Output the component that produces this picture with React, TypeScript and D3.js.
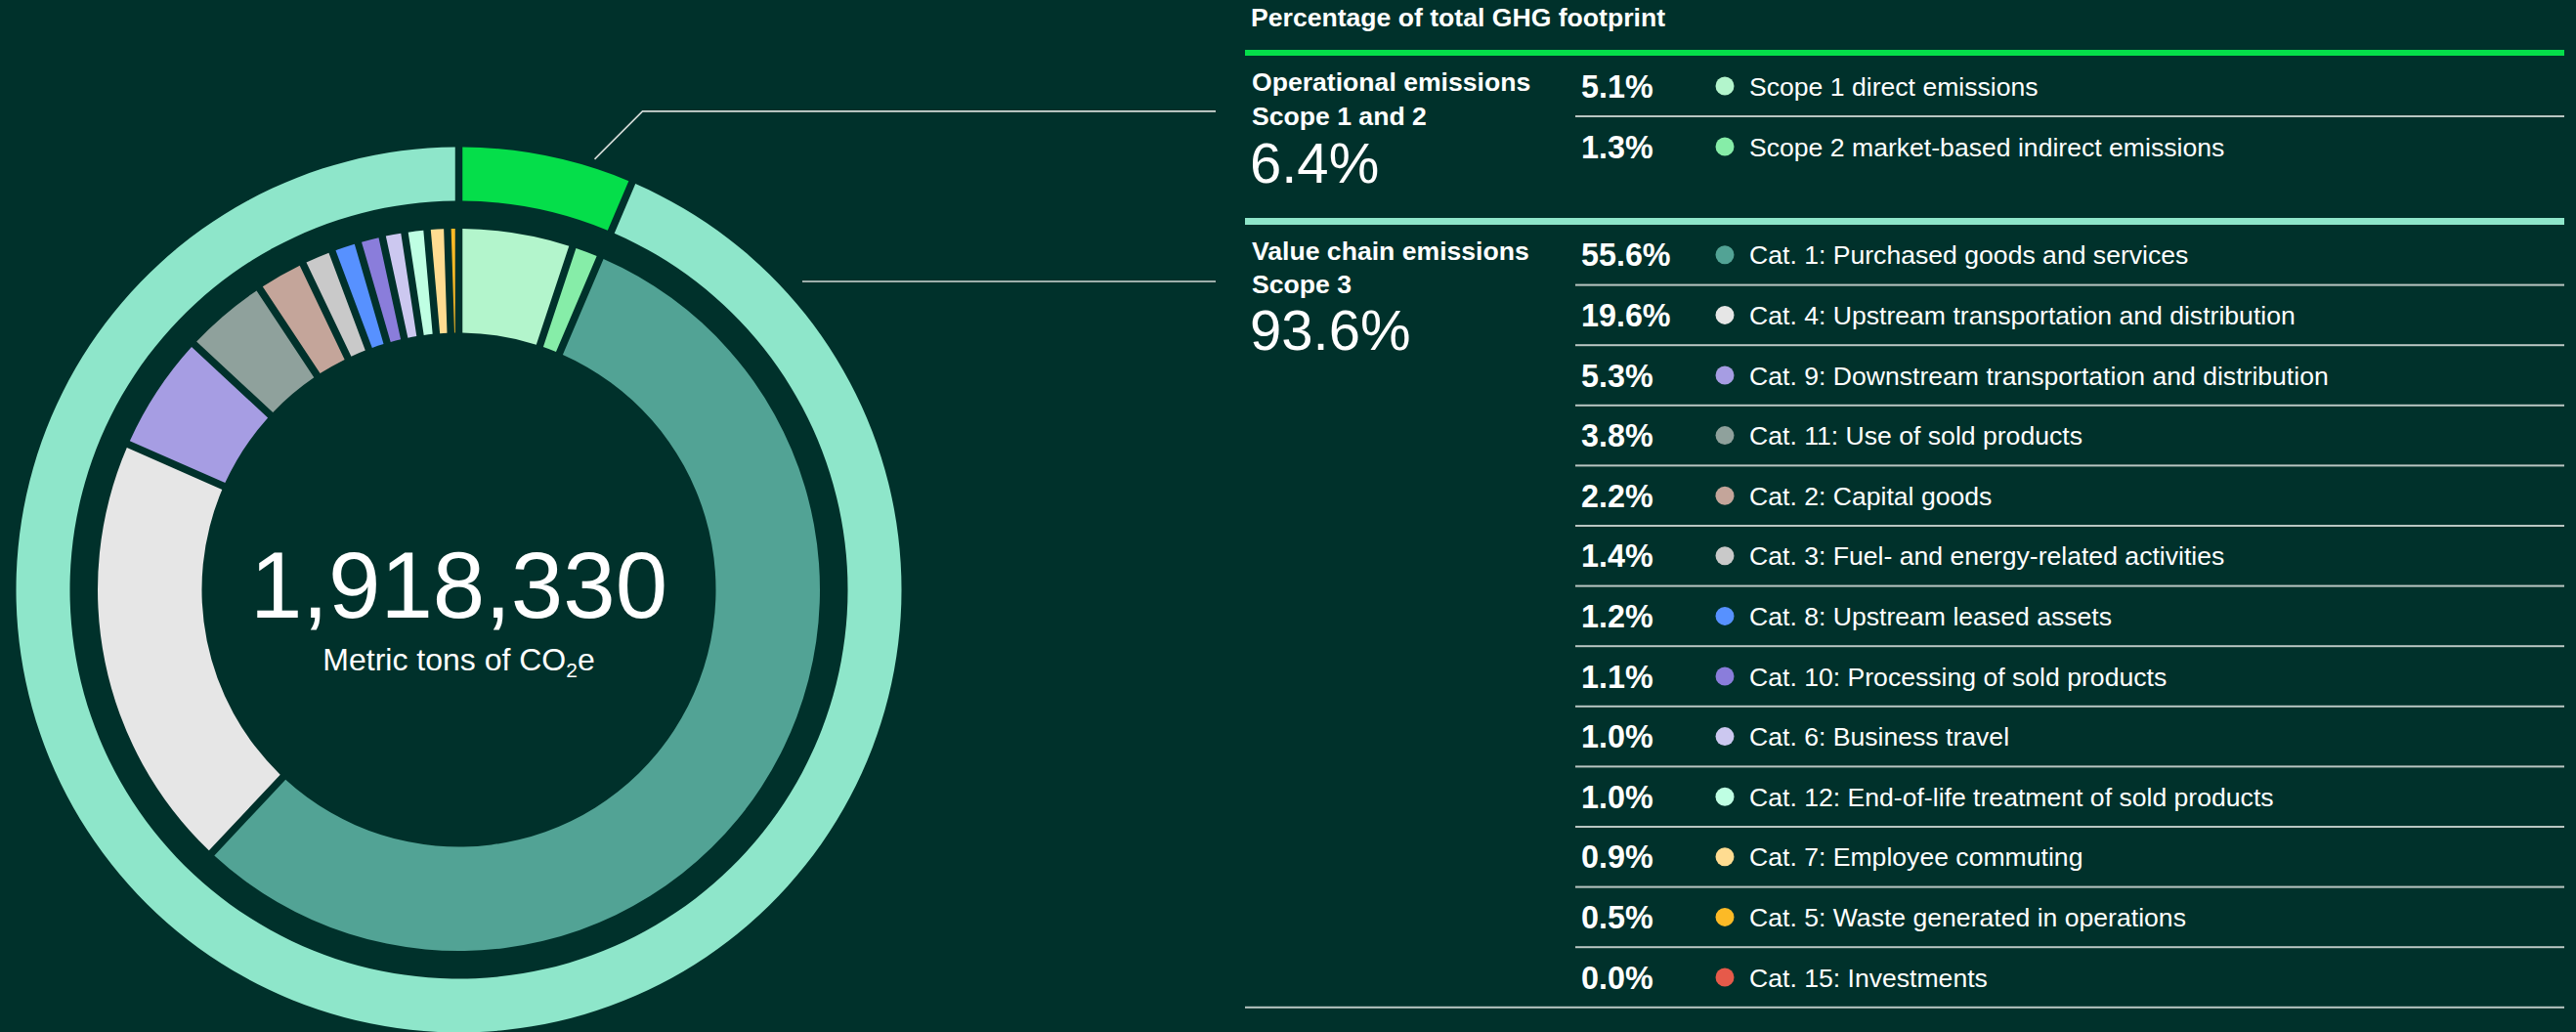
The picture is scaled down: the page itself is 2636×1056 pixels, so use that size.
import React from "react";
import * as d3 from "d3";

// ---------- DATA ----------
const totalEmissions = 1918330;

const groupNames = ["Operational emissions", "Value chain emissions"];
const groupSubtitles = ["Scope 1 and 2", "Scope 3"];
const groupValues = [6.4, 93.6];
const groupColors = ["#05DE4A", "#8EE6CA"];

const scope12Labels = ["Scope 1 direct emissions", "Scope 2 market-based indirect emissions"];
const scope12Values = [5.1, 1.3];
const scope12Colors = ["#B3F5CC", "#86EDA8"];

const scope3Labels = [
  "Cat. 1: Purchased goods and services",
  "Cat. 4: Upstream transportation and distribution",
  "Cat. 9: Downstream transportation and distribution",
  "Cat. 11: Use of sold products",
  "Cat. 2: Capital goods",
  "Cat. 3: Fuel- and energy-related activities",
  "Cat. 8: Upstream leased assets",
  "Cat. 10: Processing of sold products",
  "Cat. 6: Business travel",
  "Cat. 12: End-of-life treatment of sold products",
  "Cat. 7: Employee commuting",
  "Cat. 5: Waste generated in operations",
  "Cat. 15: Investments",
];
const scope3Values = [55.6, 19.6, 5.3, 3.8, 2.2, 1.4, 1.2, 1.1, 1.0, 1.0, 0.9, 0.5, 0.0];
const scope3Colors = [
  "#52A395", "#E6E6E6", "#A69DE3", "#8FA19C", "#C4A59A", "#C9C9C9", "#5791FF",
  "#8A7DDB", "#CCC8F0", "#BFFFE3", "#FFDC91", "#FCBA26", "#E65A4A",
];

const titleText = "Percentage of total GHG footprint";

// ---------- LAYOUT ----------
const W = 2636;
const H = 1056;
const BG = "#00312B";
const FONT = "'Liberation Sans', Arial, Helvetica, sans-serif";
const cx = 469.5;
const cy = 603.5;
const rHole = 263;
const rInnerOuter = 369.5;
const rRingInner = 398;
const rRingOuter = 453;
const gap = 7.5;
const padR = 400;

const tableLeft = 1274;
const tableRight = 2624;
const textLeft = 1281;
const pctX = 1618;
const dotX = 1765;
const labelX = 1790;
const sepLeft = 1612;
const sepColor = "#B9C6C2";

const sec1Top = 57;
const sec2Top = 230;
const rowH1 = 62;
const rowH2 = 61.6;

type Item = { label: string; value: number; color: string };

export default function App() {
  const innerItems: Item[] = [
    ...scope12Labels.map((l, i) => ({ label: l, value: scope12Values[i], color: scope12Colors[i] })),
    ...scope3Labels.map((l, i) => ({ label: l, value: scope3Values[i], color: scope3Colors[i] })),
  ];
  const outerItems: Item[] = groupNames.map((l, i) => ({ label: l, value: groupValues[i], color: groupColors[i] }));

  const pie = d3.pie<Item>().value((d) => d.value).sort(null);
  const innerArcs = pie(innerItems);
  const outerArcs = pie(outerItems);

  const innerArc = d3
    .arc<d3.PieArcDatum<Item>>()
    .innerRadius(rHole)
    .outerRadius(rInnerOuter)
    .padRadius(padR)
    .padAngle(gap / padR);
  const outerArc = d3
    .arc<d3.PieArcDatum<Item>>()
    .innerRadius(rRingInner)
    .outerRadius(rRingOuter)
    .padRadius(padR)
    .padAngle(gap / padR);

  const fmtPct = (v: number) => d3.format(".1f")(v) + "%";
  const fmtTotal = d3.format(",");

  // callout anchors (annotation geometry)
  const a1 = outerArcs[0].endAngle * 0.76;
  const p1r = 462;
  const p1 = [cx + p1r * Math.sin(a1), cy - p1r * Math.cos(a1)];
  const p1b = [p1[0] + 49, p1[1] - 49];
  const callEnd = 1244;
  const call2y = 288;
  const call2x = 821;

  const sec1Sep = [sec1Top + rowH1];
  const sec2Seps = scope3Values.map((_, i) => sec2Top + rowH2 * (i + 1));

  const pctSize = 32.3;
  const labelSize = 26.6;
  const headSize = 26.6;

  const renderRow = (it: Item, center: number, key: string) => (
    <g key={key}>
      <text x={pctX} y={center + pctSize * 0.716 / 2} fill="#FFFFFF" fontSize={pctSize} fontWeight={700} fontFamily={FONT}>
        {fmtPct(it.value)}
      </text>
      <circle cx={dotX} cy={center} r={9.5} fill={it.color} />
      <text x={labelX} y={center + labelSize * 0.716 / 2} fill="#FFFFFF" fontSize={labelSize} fontFamily={FONT}>
        {it.label}
      </text>
    </g>
  );

  return (
    <svg
      width={W}
      height={H}
      viewBox={`0 0 ${W} ${H}`}
      style={{ position: "absolute", left: 0, top: 0, display: "block" }}
    >
      <rect x={0} y={0} width={W} height={H} fill={BG} />

      {/* donut */}
      <g transform={`translate(${cx},${cy})`}>
        {outerArcs.map((a, i) => (
          <path key={"o" + i} d={outerArc(a) || ""} fill={a.data.color} />
        ))}
        {innerArcs.map((a, i) =>
          a.data.value > 0 ? <path key={"i" + i} d={innerArc(a) || ""} fill={a.data.color} /> : null
        )}
      </g>

      <text x={cx} y={632} textAnchor="middle" fill="#FFFFFF" fontSize={96} fontFamily={FONT}>
        {fmtTotal(totalEmissions)}
      </text>
      <text x={cx} y={686} textAnchor="middle" fill="#FFFFFF" fontSize={32} fontFamily={FONT}>
        Metric tons of CO
        <tspan fontSize={21} dy={7}>2</tspan>
        <tspan dy={-7}>e</tspan>
      </text>

      {/* callouts */}
      <polyline
        points={`${p1[0]},${p1[1]} ${p1b[0]},${p1b[1]} ${callEnd},${p1b[1]}`}
        fill="none"
        stroke="#D3DAD7"
        strokeWidth={1.6}
      />
      <line x1={call2x} y1={call2y} x2={callEnd} y2={call2y} stroke="#D3DAD7" strokeWidth={1.6} />

      {/* table */}
      <text x={1280} y={27} fill="#FFFFFF" fontSize={headSize} fontWeight={700} fontFamily={FONT}>
        {titleText}
      </text>
      <rect x={tableLeft} y={51} width={tableRight - tableLeft} height={6} fill={groupColors[0]} />
      <rect x={tableLeft} y={223} width={tableRight - tableLeft} height={7} fill={groupColors[1]} />

      {/* section 1 */}
      <text x={textLeft} y={93} fill="#FFFFFF" fontSize={headSize} fontWeight={700} fontFamily={FONT}>
        {groupNames[0]}
      </text>
      <text x={textLeft} y={128} fill="#FFFFFF" fontSize={headSize} fontWeight={700} fontFamily={FONT}>
        {groupSubtitles[0]}
      </text>
      <text x={1279} y={187} fill="#FFFFFF" fontSize={58} fontFamily={FONT}>
        {fmtPct(groupValues[0])}
      </text>
      {sec1Sep.map((y, i) => (
        <rect key={"s1" + i} x={sepLeft} y={y - 1} width={tableRight - sepLeft} height={2} fill={sepColor} />
      ))}
      {scope12Labels.map((l, i) =>
        renderRow({ label: l, value: scope12Values[i], color: scope12Colors[i] }, sec1Top + rowH1 * (i + 0.5), "r1" + i)
      )}

      {/* section 2 */}
      <text x={textLeft} y={266} fill="#FFFFFF" fontSize={headSize} fontWeight={700} fontFamily={FONT}>
        {groupNames[1]}
      </text>
      <text x={textLeft} y={300} fill="#FFFFFF" fontSize={headSize} fontWeight={700} fontFamily={FONT}>
        {groupSubtitles[1]}
      </text>
      <text x={1279} y={358} fill="#FFFFFF" fontSize={58} fontFamily={FONT}>
        {fmtPct(groupValues[1])}
      </text>
      {sec2Seps.map((y, i) => {
        const last = i === sec2Seps.length - 1;
        const x0 = last ? tableLeft : sepLeft;
        return <rect key={"s2" + i} x={x0} y={y - 1} width={tableRight - x0} height={2} fill={sepColor} />;
      })}
      {scope3Labels.map((l, i) =>
        renderRow({ label: l, value: scope3Values[i], color: scope3Colors[i] }, sec2Top + rowH2 * (i + 0.5), "r2" + i)
      )}
    </svg>
  );
}
